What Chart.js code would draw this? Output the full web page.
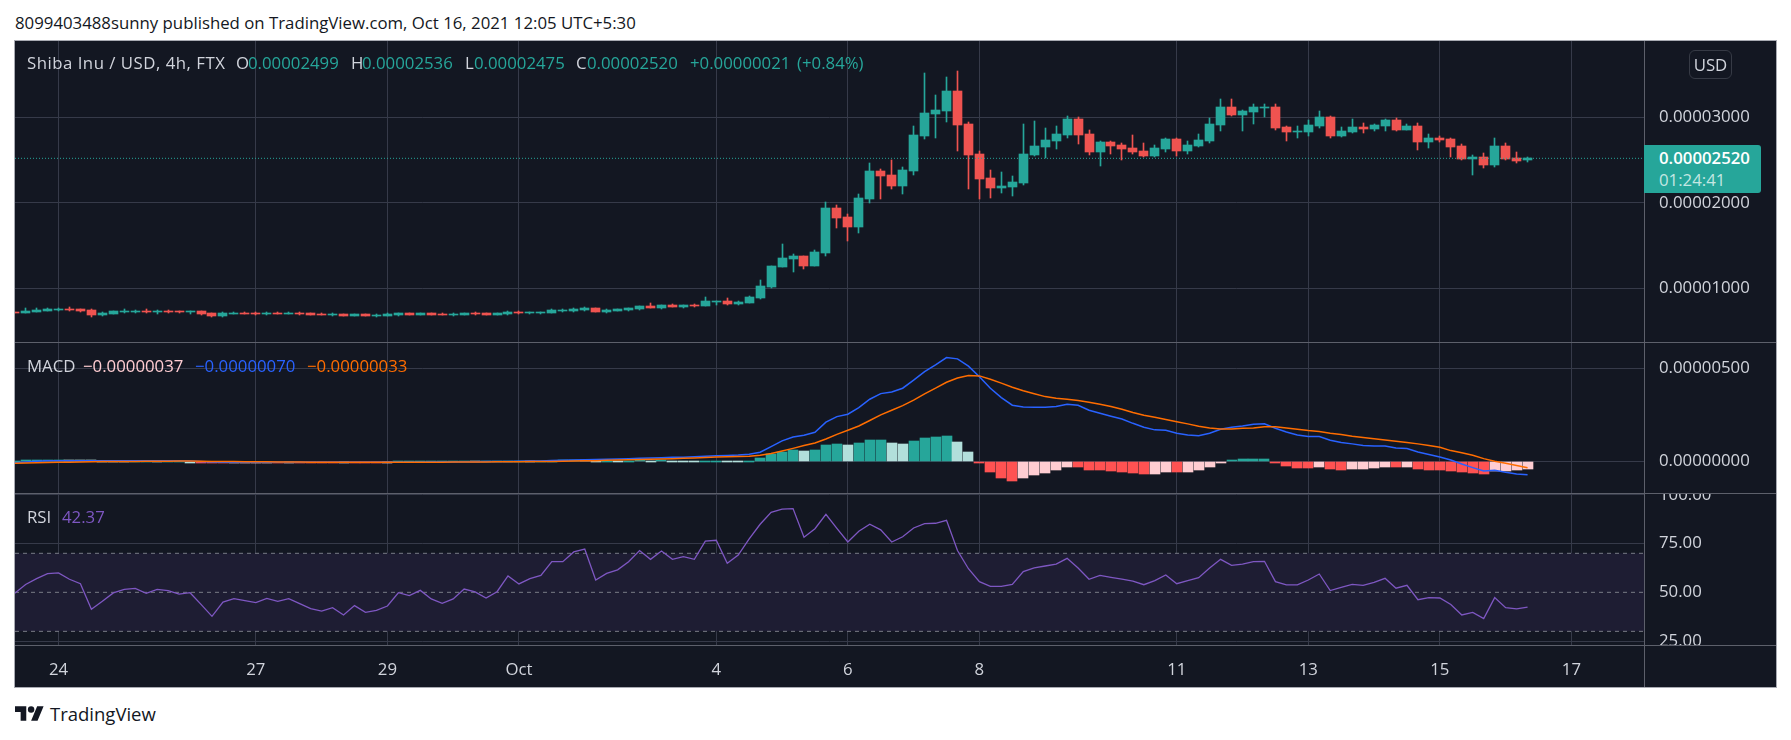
<!DOCTYPE html>
<html>
<head>
<meta charset="utf-8">
<title>Shiba Inu / USD</title>
<script src="https://cdn.jsdelivr.net/npm/chart.js@4"></script>
<style>
  html, body { margin: 0; padding: 0; background: #fff; width: 1791px; height: 740px; overflow: hidden; }
  body, .t { font-family: "Open Sans", sans-serif; }
  .t { position: absolute; white-space: nowrap; font-size: 16.8px; line-height: 20px; color: #d1d4dc; }
  #frame { position: absolute; left: 14px; top: 40px; width: 1761px; height: 646px; background: #131722; border: 1px solid #a8aab2; }
  canvas { position: absolute; left: 15px; display: block; }
  .sep { position: absolute; left: 15px; width: 1761px; height: 1px; background: #5d606b; }
  #axisLine { position: absolute; left: 1644px; top: 41px; width: 1px; height: 646px; background: #5d606b; }
  #lastBox { position: absolute; left: 1644px; top: 145px; width: 117px; height: 48px; background: #26a69a; border-radius: 0 3px 3px 0; }
  #usd { position: absolute; left: 1689px; top: 50px; width: 41px; height: 27px; line-height: 27px; border: 1px solid #363a45; border-radius: 6px; text-align: center; }
</style>
</head>
<body>
<div class="t" style="left:15px;top:13px;color:#131722">8099403488sunny published on TradingView.com, Oct 16, 2021 12:05 UTC+5:30</div>
<div id="frame"></div>

<canvas id="priceChart" width="1761" height="301" style="top:41px"></canvas>
<div class="sep" style="top:342px"></div>
<canvas id="macdChart" width="1761" height="150" style="top:343px"></canvas>
<div class="sep" style="top:493px"></div>
<canvas id="rsiChart" width="1761" height="151" style="top:494px"></canvas>
<div class="sep" style="top:645px"></div>
<canvas id="timeChart" width="1761" height="41" style="top:646px"></canvas>
<div id="axisLine"></div>

<div class="t" style="left:27px;top:53px;letter-spacing:.5px">Shiba Inu / USD, 4h, FTX</div>
<div class="t" style="left:236px;top:53px">O</div>
<div class="t" style="left:248px;top:53px;color:#26a69a">0.00002499</div>
<div class="t" style="left:351px;top:53px">H</div>
<div class="t" style="left:362px;top:53px;color:#26a69a">0.00002536</div>
<div class="t" style="left:465px;top:53px">L</div>
<div class="t" style="left:474px;top:53px;color:#26a69a">0.00002475</div>
<div class="t" style="left:576px;top:53px">C</div>
<div class="t" style="left:587px;top:53px;color:#26a69a">0.00002520</div>
<div class="t" style="left:690px;top:53px;color:#26a69a">+0.00000021</div>
<div class="t" style="left:797px;top:53px;color:#26a69a">(+0.84%)</div>

<div class="t" style="left:27px;top:356px">MACD</div>
<div class="t" style="left:83px;top:356px;color:#ffcdd2">−0.00000037</div>
<div class="t" style="left:195px;top:356px;color:#2962ff">−0.00000070</div>
<div class="t" style="left:307px;top:356px;color:#ff6d00">−0.00000033</div>

<div class="t" style="left:27px;top:507px">RSI</div>
<div class="t" style="left:62px;top:507px;color:#7e57c2">42.37</div>

<div id="usd" class="t">USD</div>
<div id="lastBox"></div>
<div class="t" style="left:1659px;top:148px;color:#fff;font-weight:600">0.00002520</div>
<div class="t" style="left:1659px;top:170px;color:#c4e6e2">01:24:41</div>

<svg style="position:absolute;left:15px;top:706px" width="29" height="15" viewBox="0 4 36 18">
  <path fill="#131722" d="M14 22H7V11H0V4h14v18zM28 22h-8l7.5-18h8L28 22z"/><circle fill="#131722" cx="20" cy="8" r="4"/>
</svg>
<div class="t" style="left:50px;top:703px;color:#131722;font-size:18.5px;line-height:22px">TradingView</div>

<script>
// all prices below are in units of 0.00000001 USD, one entry per 4h candle
const firstSlot = -4; // slot 0 is the candle under the "24" tick

const opens = [
  719,715,727,739,750,758,754,746,688,704,
  727,727,739,727,735,731,723,735,711,680,
  704,711,711,704,711,704,711,711,704,692,
  700,680,700,680,680,688,711,692,711,704,
  692,688,711,711,688,700,723,711,711,711,
  735,735,746,770,723,735,743,754,793,770,
  809,782,809,793,844,852,817,828,887,1016,
  1250,1343,1378,1261,1413,1940,1835,1718,2045,2373,
  2326,2197,2373,2782,3040,3075,3309,2923,2572,2291,
  2174,2186,2232,2560,2654,2724,2794,2981,2806,2595,
  2712,2677,2642,2607,2548,2630,2747,2607,2665,2724,
  2911,3122,3028,3063,3110,3122,2888,2829,2829,2899,
  3005,2782,2829,2888,2864,2899,2970,2853,2899,2712,
  2759,2747,2665,2513,2537,2443,2665,2525,2499
];
const highs = [
  722,766,766,770,766,782,758,754,719,735,
  754,746,754,746,743,739,735,739,715,723,
  719,719,723,723,719,719,723,711,711,707,
  700,700,700,700,707,715,711,711,711,715,
  707,711,719,711,711,735,731,723,723,754,
  758,770,782,770,754,758,774,797,828,805,
  817,805,821,899,852,883,852,910,1097,1261,
  1519,1402,1378,1449,2010,1975,1870,2104,2466,2396,
  2501,2420,2899,3519,3262,3473,3543,2946,2607,2384,
  2361,2314,2923,2958,2876,2899,3016,3005,2853,2724,
  2724,2700,2794,2700,2677,2759,2759,2724,2806,2993,
  3215,3215,3086,3157,3157,3157,2899,2899,2970,3075,
  3016,2888,2981,2934,2923,2981,2993,2923,2934,2806,
  2782,2759,2689,2560,2583,2759,2700,2595,2536
];
const lows = [
  708,707,719,731,739,739,727,668,680,700,
  715,715,715,704,715,715,700,692,668,668,
  696,696,688,688,696,696,692,688,684,680,
  676,680,680,668,672,680,692,692,688,684,
  680,688,692,688,688,688,704,704,700,707,
  723,727,739,723,715,735,735,746,766,758,
  778,770,782,793,805,809,809,825,875,1004,
  1250,1191,1226,1261,1378,1706,1554,1647,1998,2045,
  2162,2104,2326,2747,2759,2946,2607,2162,2045,2057,
  2115,2080,2209,2548,2525,2630,2759,2689,2560,2431,
  2572,2501,2572,2537,2537,2595,2548,2572,2654,2700,
  2841,3016,2841,2923,3005,2853,2724,2759,2782,2876,
  2759,2771,2817,2817,2841,2841,2841,2853,2619,2642,
  2712,2537,2501,2326,2408,2420,2501,2466,2475
];
const closes = [
  711,735,750,762,758,746,735,688,711,735,
  739,735,727,735,723,723,735,700,676,711,
  711,704,700,711,704,711,704,692,692,700,
  680,700,680,692,700,711,692,711,688,692,
  700,711,704,688,711,723,711,723,723,746,
  746,758,770,723,746,758,770,793,770,805,
  782,805,789,852,852,817,840,899,1027,1261,
  1355,1378,1261,1425,1940,1823,1718,2057,2373,2314,
  2197,2384,2794,3051,3086,3309,2911,2560,2279,2174,
  2197,2244,2572,2665,2735,2806,2981,2794,2595,2712,
  2665,2630,2595,2548,2642,2747,2607,2677,2735,2923,
  3122,3028,3075,3122,3122,2876,2829,2841,2911,3005,
  2782,2841,2888,2864,2911,2970,2853,2899,2712,2759,
  2735,2654,2513,2537,2443,2665,2513,2490,2520
];
const lastClose = 2520;

const macdHist = [
  4,8,9,10,10,9,8,6,4,3,
  2,2,2,1,1,1,0,-5,-7,-7,
  -6,-5,-4,-3,-3,-2,-2,-3,-3,-3,
  -2,-2,-2,-2,-1,2,3,4,4,5,
  5,5,4,4,4,5,5,4,4,5,
  6,7,6,5,5,4,5,6,5,6,
  5,4,3,4,5,4,3,5,20,41,
  52,62,57,62,89,95,89,100,116,117,
  100,95,111,127,132,137,105,52,-7,-55,
  -87,-104,-87,-71,-61,-45,-29,-30,-45,-46,
  -50,-55,-61,-66,-64,-55,-56,-55,-45,-29,
  -7,9,14,15,16,-7,-23,-34,-35,-29,
  -39,-45,-39,-38,-34,-29,-30,-29,-39,-45,
  -46,-50,-55,-61,-66,-50,-49,-45,-37
];
const macdLine = [
  -6,-2,2,4,5,5,5,4,4,4,
  4,4,4,4,4,4,3,0,-2,-3,
  -3,-3,-3,-3,-3,-3,-3,-3,-4,-4,
  -4,-4,-4,-4,-4,-3,-3,-3,-2,-2,
  -2,-1,-1,0,0,1,2,3,3,6,
  7,8,10,11,13,14,16,18,20,21,
  23,24,26,29,32,33,35,39,50,80,
  111,132,141,157,211,241,254,289,334,364,
  373,393,436,482,518,557,550,511,454,393,
  343,302,293,291,291,295,307,302,275,259,
  243,228,205,184,170,168,152,143,139,152,
  173,184,191,200,203,179,159,143,134,134,
  114,102,95,86,84,84,73,70,52,38,
  25,9,-13,-32,-50,-46,-57,-66,-70
];
const signalLine = [
  -9,-8,-6,-5,-4,-3,-2,-1,0,0,
  1,1,2,2,2,3,3,2,1,0,
  0,-1,-1,-1,-2,-2,-2,-3,-3,-3,
  -3,-3,-3,-3,-3,-3,-3,-3,-3,-3,
  -2,-2,-2,-2,-1,-1,-1,0,0,1,
  2,3,4,5,7,9,10,11,13,14,
  16,18,20,22,25,26,27,29,34,43,
  57,71,86,100,121,146,168,191,220,250,
  275,300,329,363,393,425,448,461,459,441,
  420,398,379,363,348,339,334,327,318,307,
  295,280,263,248,237,225,214,202,189,180,
  175,175,179,180,186,186,180,173,166,161,
  152,145,136,129,123,116,109,102,95,86,
  77,59,48,34,16,2,-9,-21,-33
];
const rsi = [
  49.5,54,57,59.6,60,56.7,54.4,41.3,45.4,49.7,
  51.5,52,49.5,51.5,50.9,49.1,49.8,43.8,37.7,45,
  46.8,45.7,44.7,46.9,45.4,46.8,44.2,41.6,40.4,42.1,
  38.4,43.2,39.7,40.8,43,49.8,48.3,51,46.6,44.4,
  46.6,51.7,50.2,47.1,50.3,58.4,54.3,57,58.7,65.7,
  65.7,70.7,72.2,56.3,59.7,61.5,65.7,71.4,66.9,71.2,
  66.9,68.3,66.9,76.2,76.7,64.9,69.1,77.4,84.9,91,
  92.6,92.9,78.2,82.6,90,82.8,75.8,81.3,84.9,82,
  75.8,78.5,83,85.2,85.4,86.9,71.4,62.1,55.5,53.1,
  53.1,54.1,60.6,62.5,63.5,64.5,67.4,62.5,56.7,58.7,
  57.7,56.8,55.8,53.9,56,58.9,54.4,56,57.5,62.5,
  66.9,63.8,64.4,65.7,65.9,55.5,53.8,53.8,56.3,59.4,
  50.9,52.6,54.1,53.6,55.1,57.2,52.1,53.6,46.2,47.3,
  47.1,43.8,38.4,39.7,36.5,47.3,42.1,41.5,42.37
];

const timeTickSlots = [0, 18, 30, 42, 60, 72, 84, 102, 114, 126, 138];
const timeTickLabels = ['24', '27', '29', 'Oct', '4', '6', '8', '11', '13', '15', '17'];
const priceTicks = [1000, 2000, 3000];
const macdTicks = [0, 500];
const rsiTicks = [25, 50, 75, 100];
const rsiBand = [30, 50, 70];

const GREEN = '#26a69a', RED = '#ef5350', GRID = '#363a49', TEXT = '#d1d4dc';
const AXIS_FONT = { family: '"Open Sans", sans-serif', size: 16.8 };
const slotMin = -3.968, slotMax = 144.62;

Chart.defaults.animation = false;
Chart.defaults.responsive = false;
Chart.defaults.plugins.legend.display = false;
Chart.defaults.plugins.tooltip.enabled = false;

const slotOf = i => firstSlot + i;

// canvas bars land on fractions of a pixel, TradingView's don't
const snapBars = {
  id: 'snapBars',
  beforeDatasetsDraw(chart) {
    chart.data.datasets.forEach((ds, d) => {
      const meta = chart.getDatasetMeta(d);
      if (meta.type !== 'bar') return;
      meta.data.forEach(bar => {
        bar.x = bar.width % 2 ? Math.floor(bar.x) + 0.5 : Math.round(bar.x);
        bar.y = Math.round(bar.y);
        bar.base = Math.round(bar.base);
        if (bar.y === bar.base) bar.base += 1;
      });
    });
  }
};

function xAxis() {
  return {
    type: 'linear', min: slotMin, max: slotMax, offset: false,
    afterBuildTicks: s => { s.ticks = timeTickSlots.map(v => ({ value: v })); },
    grid: { color: GRID, drawTicks: false, offset: false },
    border: { display: false },
    ticks: { display: false }
  };
}

function yAxis(min, max, tickValues, fmt) {
  return {
    position: 'right', min, max,
    afterBuildTicks: s => { s.ticks = tickValues.map(v => ({ value: v })); },
    afterFit: s => { s.width = 132; s.paddingTop = 0; s.paddingBottom = 0; },
    grid: { color: GRID, drawTicks: false },
    border: { display: false },
    ticks: { color: TEXT, font: AXIS_FONT, padding: 15, autoSkip: false, callback: fmt }
  };
}

const priceLabel = v => (v * 1e-8).toFixed(8);

const candleColors = opens.map((o, i) => closes[i] >= o ? GREEN : RED);

new Chart(document.getElementById('priceChart'), {
  type: 'bar',
  data: {
    datasets: [
      {
        data: opens.map((o, i) => ({ x: slotOf(i), y: [lows[i], highs[i]] })),
        backgroundColor: candleColors, barThickness: 1, grouped: false, order: 3
      },
      {
        data: opens.map((o, i) => ({ x: slotOf(i), y: [o, closes[i]] })),
        backgroundColor: candleColors, barThickness: 9, grouped: false, order: 2
      },
      {
        type: 'line', order: 1, borderColor: GREEN, borderWidth: 1, borderDash: [1, 2], pointRadius: 0,
        data: [{ x: slotMin, y: lastClose }, { x: slotMax, y: lastClose }]
      }
    ]
  },
  options: {
    layout: { padding: 0 },
    scales: { x: xAxis(), y: yAxis(372, 3892, priceTicks, priceLabel) }
  },
  plugins: [snapBars]
});

const histColors = macdHist.map((v, i) => {
  const prev = i ? macdHist[i - 1] : 0;
  if (v >= 0) return v >= prev ? GREEN : '#b2dfdb';
  return v <= prev ? '#ff5252' : '#ffcdd2';
});

new Chart(document.getElementById('macdChart'), {
  type: 'bar',
  data: {
    datasets: [
      {
        data: macdHist.map((v, i) => ({ x: slotOf(i), y: v })),
        backgroundColor: histColors, barThickness: 10, grouped: false, order: 3
      },
      {
        type: 'line', order: 2, borderColor: '#2962ff', borderWidth: 1.5, pointRadius: 0, tension: 0,
        data: macdLine.map((v, i) => ({ x: slotOf(i), y: v }))
      },
      {
        type: 'line', order: 1, borderColor: '#ff6d00', borderWidth: 1.5, pointRadius: 0, tension: 0,
        data: signalLine.map((v, i) => ({ x: slotOf(i), y: v }))
      }
    ]
  },
  options: {
    scales: { x: xAxis(), y: yAxis(-168, 635, macdTicks, priceLabel) }
  },
  plugins: [snapBars]
});

const bandLine = (v, fill) => ({
  type: 'line', order: fill ? 4 : 3, pointRadius: 0, borderColor: '#787b86', borderWidth: 1, borderDash: [4, 4],
  data: [{ x: slotMin, y: v }, { x: slotMax, y: v }],
  fill: fill ? { value: rsiBand[0] } : false,
  backgroundColor: '#1e1d33'
});

new Chart(document.getElementById('rsiChart'), {
  type: 'line',
  data: {
    datasets: [
      bandLine(rsiBand[2], true),
      bandLine(rsiBand[1], false),
      bandLine(rsiBand[0], false),
      {
        order: 1, borderColor: '#7e57c2', borderWidth: 1.3, pointRadius: 0, tension: 0, fill: false,
        data: rsi.map((v, i) => ({ x: slotOf(i), y: v }))
      }
    ]
  },
  options: {
    scales: { x: xAxis(), y: yAxis(23, 100.4, rsiTicks, v => v.toFixed(2)) }
  }
});

// time axis sits in its own strip under the RSI pane
new Chart(document.getElementById('timeChart'), {
  type: 'line',
  data: { datasets: [] },
  options: {
    layout: { padding: { right: 132 } },
    scales: {
      x: {
        type: 'linear', min: slotMin, max: slotMax, offset: false,
        afterBuildTicks: s => { s.ticks = timeTickSlots.map(v => ({ value: v })); },
        afterFit: s => { s.height = 37; },
        grid: { display: false, drawTicks: false },
        border: { display: false },
        ticks: {
          color: TEXT, font: AXIS_FONT, padding: 10, autoSkip: false, maxRotation: 0,
          callback: v => timeTickLabels[timeTickSlots.indexOf(v)]
        }
      },
      y: { display: false }
    }
  }
});
</script>
</body>
</html>
